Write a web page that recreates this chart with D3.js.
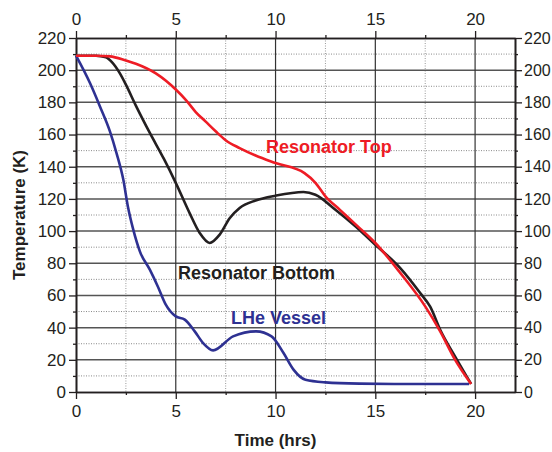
<!DOCTYPE html>
<html lang="en">
    <head>
        <meta charset="utf-8">
        <title>Cooldown temperatures</title>
        <script type="text/javascript" src="https://cdn.jsdelivr.net/npm/d3@7"></script>
        <style>
            body { margin: 0; background: white; }
            .axis path { stroke: #231f20; stroke-width: 1.6; }
            .axis line { stroke: #231f20; stroke-width: 1.3; }
            .axis text {
                font-family: "Liberation Sans", Arial, sans-serif;
                font-size: 17px;
                fill: #231f20;
            }
            .axis.right text { font-size: 16px; }
            .title {
                font-family: "Liberation Sans", Arial, sans-serif;
                font-weight: bold;
                font-size: 17px;
                fill: #231f20;
            }
            .label {
                font-family: "Liberation Sans", Arial, sans-serif;
                font-weight: bold;
                font-size: 18px;
            }
        </style>
    </head>
    <body>
        <script type="text/javascript">

            // time axis (hrs) and temperatures (K)
            var redTime  = [0, 1, 1.7, 2.5, 3, 4, 5, 5.5, 6, 6.5, 7, 7.5, 8.2, 9, 10, 11.45, 12, 12.5, 13.2, 14.2, 15, 16.25, 17.5, 18.25, 19, 19.8];
            var redTemp  = [209, 209, 208.6, 206, 204, 198, 188, 181.6, 174, 168, 162, 156.5, 151.6, 147, 142.3, 136, 130, 121.6, 113.5, 102, 92.6, 74, 53.2, 37.7, 20, 5];

            var blackTime = [0, 1, 1.5, 1.8, 2.2, 2.5, 3, 3.7, 4.4, 5, 5.7, 6.2, 6.7, 7.2, 7.7, 8.2, 9, 10, 11.4, 12, 13, 14, 15, 16.25, 17.25, 17.75, 18.25, 19, 19.8];
            var blackTemp = [209, 209, 208, 205, 198, 191, 178, 161, 145, 130, 111, 98.8, 92.6, 97.8, 108, 114.4, 119, 122, 124.3, 122.6, 113.3, 103, 91.5, 77, 61.5, 53, 38.7, 22, 5];

            var blueTime = [0, 0.7, 1.2, 1.7, 2.03, 2.37, 2.6, 2.87, 3.2, 3.7, 4.1, 4.5, 5.0, 5.45, 5.95, 6.37, 6.87, 7.87, 9.03, 9.8, 10.4, 10.9, 11.5, 12.5, 14.2, 16, 18, 19.7];
            var blueTemp = [209, 192, 177.5, 162, 148.5, 132, 115.3, 100.9, 87.4, 76, 65.6, 54.3, 47, 45, 37.7, 30.4, 25.9, 34.6, 37.7, 34.6, 24.2, 13.9, 7.6, 6, 5.2, 5, 5, 5];

            var xMajor = [0, 5, 10, 15, 20];
            var xMinor = [2.5, 7.5, 12.5, 17.5];
            var yMajor = [0, 20, 40, 60, 80, 100, 120, 140, 160, 180, 200, 220];
            var yMinor = [10, 30, 50, 70, 90, 110, 130, 150, 170, 190, 210];

            var series = [
                { name: "Resonator Top", time: redTime, temp: redTemp, color: "#ee1c25", lx: 266, ly: 153 },
                { name: "Resonator Bottom", time: blackTime, temp: blackTemp, color: "#231f20", lx: 178, ly: 279 },
                { name: "LHe Vessel", time: blueTime, temp: blueTemp, color: "#2e3192", lx: 231, ly: 324 }
            ];

            var w = 552;
            var h = 452;
            // plot box edges (note: "top" is reserved on window, so use pTop etc.)
            var pLeft = 76, pRight = 515, pTop = 38, pBottom = 392;

            var svg = d3.select("body").append("svg").attr("width", w).attr("height", h);

            var xScale = d3.scaleLinear().domain([0, 22]).range([pLeft, pRight]);
            var yScale = d3.scaleLinear().domain([0, 220]).range([pBottom, pTop]);

            // grid: dotted minors first, then solid majors
            var grid = svg.append("g");
            grid.selectAll(".vminor").data(xMinor).enter().append("line")
                .attr("x1", function(d) { return xScale(d); })
                .attr("x2", function(d) { return xScale(d); })
                .attr("y1", pTop).attr("y2", pBottom)
                .attr("stroke", "#9a9a9a").attr("stroke-width", 1)
                .attr("stroke-dasharray", "1,1.5");
            grid.selectAll(".hminor").data(yMinor).enter().append("line")
                .attr("y1", function(d) { return yScale(d); })
                .attr("y2", function(d) { return yScale(d); })
                .attr("x1", pLeft).attr("x2", pRight)
                .attr("stroke", "#8a8a8a").attr("stroke-width", 1)
                .attr("stroke-dasharray", "1,1.5");
            grid.selectAll(".hmajor").data(yMajor.slice(1, -1)).enter().append("line")
                .attr("y1", function(d) { return yScale(d); })
                .attr("y2", function(d) { return yScale(d); })
                .attr("x1", pLeft).attr("x2", pRight)
                .attr("stroke", "#555").attr("stroke-width", 1.5);
            grid.selectAll(".vmajor").data(xMajor.slice(1)).enter().append("line")
                .attr("x1", function(d) { return xScale(d); })
                .attr("x2", function(d) { return xScale(d); })
                .attr("y1", pTop).attr("y2", pBottom)
                .attr("stroke", "#333").attr("stroke-width", 1.2);

            // axes: major ticks with labels, minor ticks without
            function addAxis(axisFn, scale, cls, transform, values, size, pad, labels) {
                var ax = axisFn(scale)
                    .tickValues(values).tickSize(size).tickPadding(pad).tickSizeOuter(0);
                if (!labels) ax.tickFormat("");
                svg.append("g").attr("class", "axis " + cls)
                    .attr("transform", transform)
                    .call(ax);
            }
            addAxis(d3.axisBottom, xScale, "bottom", "translate(0," + pBottom + ")", xMajor, 7, 6, true);
            addAxis(d3.axisBottom, xScale, "bottom", "translate(0," + pBottom + ")", xMinor, 3, 6, false);
            addAxis(d3.axisTop, xScale, "top", "translate(0," + pTop + ")", xMajor, 7, 6, true);
            addAxis(d3.axisTop, xScale, "top", "translate(0," + pTop + ")", xMinor, 3, 6, false);
            addAxis(d3.axisLeft, yScale, "left", "translate(" + pLeft + ",0)", yMajor, 7, 3, true);
            addAxis(d3.axisLeft, yScale, "left", "translate(" + pLeft + ",0)", yMinor, 3, 3, false);
            addAxis(d3.axisRight, yScale, "right", "translate(" + pRight + ",0)", yMajor, 7, 2, true);
            addAxis(d3.axisRight, yScale, "right", "translate(" + pRight + ",0)", yMinor, 3, 2, false);

            // curves
            var line = d3.line()
                .x(function(d) { return xScale(d[0]); })
                .y(function(d) { return yScale(d[1]); })
                .curve(d3.curveMonotoneX);

            svg.selectAll(".curve").data(series.slice().reverse()).enter().append("path")
                .attr("d", function(s) { return line(d3.zip(s.time, s.temp)); })
                .attr("fill", "none")
                .attr("stroke", function(s) { return s.color; })
                .attr("stroke-width", 2.6)
                .attr("stroke-linejoin", "round");

            // series labels
            svg.selectAll(".label").data(series).enter().append("text")
                .attr("class", "label")
                .attr("x", function(s) { return s.lx; })
                .attr("y", function(s) { return s.ly; })
                .attr("fill", function(s) { return s.color; })
                .text(function(s) { return s.name; });

            // axis titles
            svg.append("text").attr("class", "title")
                .attr("x", xScale(10)).attr("y", 446)
                .attr("text-anchor", "middle")
                .text("Time (hrs)");
            svg.append("text").attr("class", "title")
                .attr("transform", "translate(25," + yScale(110) + ") rotate(-90)")
                .attr("text-anchor", "middle")
                .text("Temperature (K)");

        </script>
    </body>
</html>
